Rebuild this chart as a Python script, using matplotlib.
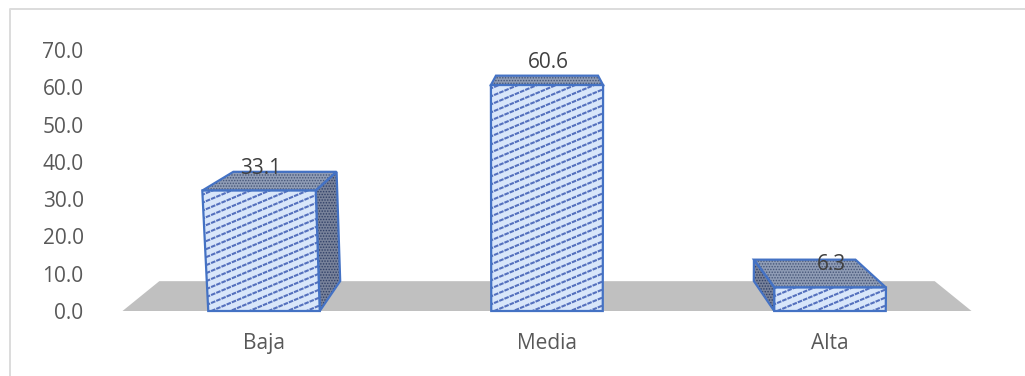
import numpy as np
import matplotlib
matplotlib.use('Agg')
import matplotlib.pyplot as plt
from matplotlib.patches import Polygon
from matplotlib.lines import Line2D
from matplotlib.collections import LineCollection

categorias = ['Baja', 'Media', 'Alta']
valores = [33.1, 60.6, 6.3]
etiquetas = ['33.1', '60.6', '6.3']
ticks = [0, 10, 20, 30, 40, 50, 60, 70]

plt.rcParams['font.family'] = ['Open Sans', 'DejaVu Sans']
plt.rcParams['hatch.linewidth'] = 0.7

W, H = 1025, 376
fig = plt.figure(figsize=(W / 100, H / 100), dpi=100)

# marco: solo se ve arriba y a la izquierda
fig.add_artist(Line2D([9.5 / W, 9.5 / W, 1], [0, 1 - 9 / H, 1 - 9 / H], transform=fig.transFigure,
                      color='#dcdcdc', linewidth=1.4))

# y=0 en 311 px, y=70 en 50 px
ax = fig.add_axes([122.5 / W, 1 - 311 / H, 849 / W, 261 / H])
ax.set_xlim(-0.5, 2.5)
ax.set_ylim(0, 70)
ax.patch.set_visible(False)
for s in ax.spines.values():
    s.set_visible(False)
ax.set_xticks(range(3), categorias)
ax.set_yticks(ticks, [f'{t:.1f}' for t in ticks])
ax.tick_params(length=0, labelsize=15, labelcolor='#595959')
ax.tick_params(axis='x', pad=16)
ax.tick_params(axis='y', pad=28)

semi = 0.197   # media anchura de la barra
px_x = 283.0   # pixeles por categoria
px_y = 261 / 70


def frente(x, v):
    # la cara frontal se inclina hacia fuera al subir
    if x < 0.5:
        return x + (x - 1) * v * 0.00053, v * 0.976
    return x + (x - 1) * v * 0.0001, v


def fondo(x, v):
    fx, fv = frente(x, v)
    return 1 + (fx - 1) * 0.91, fv + (30 - 0.34 * v) / px_y


# suelo gris
ax.add_patch(Polygon([(-0.5, 0), (2.5, 0), (2.37, 8), (-0.37, 8)], closed=True,
                     facecolor='#c0c0c0', edgecolor='none', zorder=1, clip_on=False))

azul = '#4472c4'
for i, v in enumerate(valores):
    izq, der = i - semi, i + semi
    f_bi, f_bd = frente(izq, 0), frente(der, 0)
    f_ti, f_td = frente(izq, v), frente(der, v)
    b_bi, b_bd = fondo(izq, 0), fondo(der, 0)
    b_ti, b_td = fondo(izq, v), fondo(der, v)

    # cara lateral, hacia el centro del grafico
    if i == 0:
        lado = [f_bd, f_td, b_td, b_bd]
    elif i == 2:
        lado = [f_bi, f_ti, b_ti, b_bi]
    else:
        lado = None
    if lado:
        ax.add_patch(Polygon(lado, closed=True, facecolor='#78829a', edgecolor='#2f3f66',
                             hatch='......', linewidth=0, zorder=3, clip_on=False))
        ax.add_patch(Polygon(lado, closed=True, fill=False, edgecolor=azul, linewidth=1.6,
                             zorder=4, clip_on=False))

    # cara superior
    arriba = [f_ti, f_td, b_td, b_ti]
    ax.add_patch(Polygon(arriba, closed=True, facecolor='#8f9cb5', edgecolor='#465678',
                         hatch='......', linewidth=0, zorder=3, clip_on=False))
    ax.add_patch(Polygon(arriba, closed=True, fill=False, edgecolor=azul, linewidth=1.6,
                         zorder=4, clip_on=False))

    # cara frontal con rayado poco inclinado
    cara = [f_bi, f_ti, f_td, f_bd]
    p = Polygon(cara, closed=True, facecolor='#d8e6fa', edgecolor='none', zorder=5, clip_on=False)
    ax.add_patch(p)
    pendiente = 0.42 * px_x / px_y
    paso = 8 / px_y
    segs = []
    for y0 in np.arange(-40, v + 40, paso):
        segs.append([(izq - 0.1, y0), (der + 0.1, y0 + (2 * semi + 0.2) * pendiente)])
    lc = LineCollection(segs, colors='#5470bd', linewidths=1.5, linestyles=[(0, (2.2, 0.5))], zorder=6)
    ax.add_collection(lc, autolim=False)
    lc.set_clip_path(p)
    ax.add_patch(Polygon(cara, closed=True, fill=False, edgecolor=azul, linewidth=1.6,
                         zorder=7, clip_on=False))

# etiquetas de datos
desp = [5.1, 6.0, 6.2]
for i, v in enumerate(valores):
    cx = frente(i, v)[0]
    ax.text(cx + 0.005, v + desp[i], etiquetas[i], ha='center', va='center', fontsize=15,
            color='#404040', zorder=10, clip_on=False)

fig.savefig('out.png', dpi=100)
